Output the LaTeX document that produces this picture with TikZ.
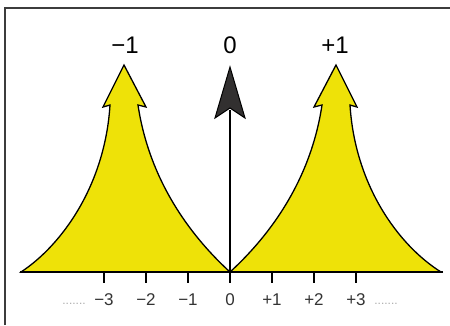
\documentclass[tikz,border=0pt]{standalone}
\usepackage{fontspec}
\setmainfont{Liberation Sans}
\definecolor{peakyellow}{RGB}{238,226,8}
\definecolor{headgray}{RGB}{50,48,48}
\definecolor{framegray}{RGB}{60,60,60}
\definecolor{dotgray}{RGB}{170,170,170}
\tikzset{
  peak/.style={fill=peakyellow, draw=black, line width=1.3pt, line join=miter},
  axisline/.style={draw=black, line width=1.6pt},
  tickline/.style={draw=black, line width=1.4pt},
  ticklabel/.style={font=\fontsize{17}{17}\selectfont, text=black!80, inner sep=0pt},
  toplabel/.style={font=\fontsize{24}{24}\selectfont, inner sep=0pt},
  dots/.style={font=\fontsize{12}{12}\selectfont, text=dotgray, inner sep=0pt},
}
\begin{document}
\begin{tikzpicture}[x=1pt,y=-1pt]
\useasboundingbox (0,0) rectangle (450,325);
% frame
\draw[framegray, line width=1.6pt] (5,325) -- (5,8) -- (450,8);
% left peak
\path[peak] (21,272) .. controls (62,245) and (105,185) .. (110,105)
  -- (103,107) -- (124,65) -- (146,107) -- (138,105)
  .. controls (150,185) and (195,240) .. (230,272) -- cycle;
% right peak
\path[peak] (230,272) .. controls (265,240) and (310,185) .. (322,105)
  -- (314,107) -- (336,65) -- (357,107) -- (350,105)
  .. controls (355,185) and (398,245) .. (441,272) -- cycle;
% axis
\coordinate (L) at (20,272);
\coordinate (R) at (443,272);
\coordinate (O) at (230,272);
\draw[axisline] (L) -- (R);
% ticks
\foreach \k/\t in {-3/{−3},-2/{−2},-1/{−1},0/{0},1/{+1},2/{+2},3/{+3}}{
  \coordinate (t\k) at ({230+42*\k},272);
  \coordinate (b\k) at ({230+42*\k},283);
  \draw[tickline] (t\k) -- (b\k);
  \node[ticklabel] (lab\k) at ({230+42*\k},300) {\t};
}
\node[dots] (dl) at (74,304) {.......};
\node[dots] (dr) at (386,304) {.......};
% central arrow
\coordinate (shafttop) at (230,110);
\draw[line width=1.6pt] (O) -- (shafttop);
\path[fill=headgray, draw=black, line width=1pt, line join=miter]
  (230,67) -- (245,118) -- (230,108) -- (215,118) -- cycle;
% top labels
\node[toplabel] (m1) at (125,45) {−1};
\node[toplabel] (z0) at (230,45) {0};
\node[toplabel] (p1) at (335,45) {+1};
\end{tikzpicture}
\end{document}
